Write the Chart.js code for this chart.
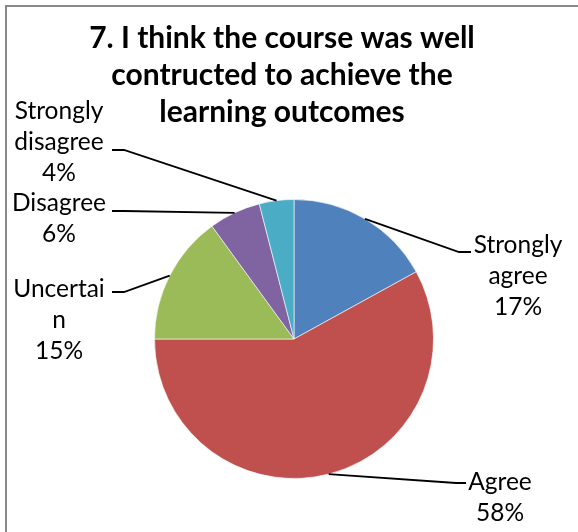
<!DOCTYPE html>
<html>
<head>
<meta charset="utf-8">
<script src="https://cdn.jsdelivr.net/npm/chart.js@4"></script>
<style>
  html, body { margin: 0; padding: 0; background: #ffffff; }
  #wrap { position: relative; width: 578px; height: 532px; }
</style>
</head>
<body>
<div id="wrap"><canvas id="c" width="578" height="532"></canvas></div>
<script>
// ---- data ----
const categories = ['Strongly agree', 'Agree', 'Uncertain', 'Disagree', 'Strongly disagree'];
const percentValues = [17, 58, 15, 6, 4];
const titleLines = ['7. I think the course was well', 'contructed to achieve the', 'learning outcomes'];

// ---- styles / layout (kept apart from the data) ----
const sliceColors = ['#4F81BD', '#C0504D', '#9BBB59', '#8064A2', '#4BACC6'];
const FONT = 'Lato, "Liberation Sans", sans-serif';
const titleStyle = { size: 30, baselines: [48, 85, 122], centerX: 282 };
const labelStyle = { size: 24.5, lineGap: 31 };
// per slice: text centre x, first baseline y, leader elbow and end points
const labelLayout = [
  { cx: 518, y: 253, elbow: [459, 252], end: [471, 252] },
  { cx: 500, y: 490, elbow: [456, 483], end: [466, 483] },
  { cx: 59,  y: 297, elbow: [124, 292], end: [112, 292] },
  { cx: 59,  y: 211, elbow: [124, 211], end: [112, 211] },
  { cx: 59,  y: 119, elbow: [124, 150], end: [112, 150] }
];

function wrapLabel(text, maxChars) {
  const out = [];
  text.split(' ').forEach(w => {
    while (w.length > maxChars) { out.push(w.slice(0, maxChars)); w = w.slice(maxChars); }
    out.push(w);
  });
  return out;
}

const decorPlugin = {
  id: 'decor',
  beforeDraw(chart) {
    const ctx = chart.ctx;
    ctx.save();
    ctx.fillStyle = '#ffffff';
    ctx.fillRect(0, 0, chart.width, chart.height);
    ctx.fillStyle = '#898989';
    ctx.fillRect(5, 5, chart.width - 5, 2);
    ctx.fillRect(5, 5, 2, chart.height - 5);
    ctx.restore();
  },
  afterDatasetsDraw(chart) {
    const ctx = chart.ctx;
    const meta = chart.getDatasetMeta(0);
    const data = chart.data.datasets[0].data;
    const total = data.reduce((a, b) => a + b, 0);
    ctx.save();
    // title
    ctx.fillStyle = '#000000';
    ctx.textAlign = 'center';
    ctx.textBaseline = 'alphabetic';
    ctx.font = 'bold ' + titleStyle.size + 'px ' + FONT;
    titleLines.forEach((t, i) => ctx.fillText(t, titleStyle.centerX, titleStyle.baselines[i]));

    // leader lines + labels
    meta.data.forEach((arc, i) => {
      const p = arc.getProps(['x', 'y', 'startAngle', 'endAngle', 'outerRadius'], true);
      const mid = (p.startAngle + p.endAngle) / 2;
      const ax = p.x + Math.cos(mid) * p.outerRadius;
      const ay = p.y + Math.sin(mid) * p.outerRadius;
      const L = labelLayout[i];
      ctx.strokeStyle = '#000000';
      ctx.lineWidth = 1.8;
      ctx.beginPath();
      ctx.moveTo(ax, ay);
      ctx.lineTo(L.elbow[0], L.elbow[1]);
      ctx.lineTo(L.end[0], L.end[1]);
      ctx.stroke();

      const lines = wrapLabel(chart.data.labels[i], 8);
      lines.push(Math.round(data[i] / total * 100) + '%');
      ctx.font = labelStyle.size + 'px ' + FONT;
      ctx.fillStyle = '#000000';
      ctx.textAlign = 'center';
      lines.forEach((t, k) => ctx.fillText(t, L.cx, L.y + k * labelStyle.lineGap));
    });
    ctx.restore();
  }
};

new Chart(document.getElementById('c'), {
  type: 'pie',
  data: {
    labels: categories,
    datasets: [{
      data: percentValues,
      backgroundColor: sliceColors,
      borderColor: 'rgba(255,255,255,0.6)',
      borderWidth: 1,
      hoverBorderWidth: 1,
      hoverOffset: 0
    }]
  },
  options: {
    responsive: false,
    animation: false,
    devicePixelRatio: 1,
    events: [],
    layout: { padding: { left: 154, right: 144, top: 199, bottom: 53 } },
    plugins: {
      legend: { display: false },
      tooltip: { enabled: false },
      title: { display: false }
    }
  },
  plugins: [decorPlugin]
});
</script>
</body>
</html>
